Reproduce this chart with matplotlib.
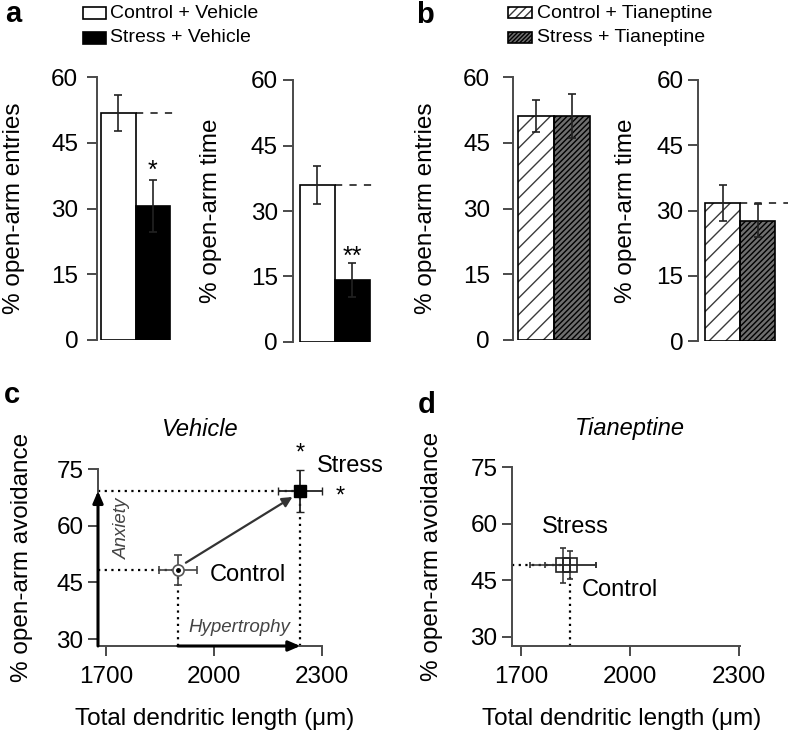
import matplotlib
matplotlib.use('Agg')
import matplotlib.pyplot as plt
from matplotlib.patches import Rectangle

plt.rcParams['font.family'] = ['Liberation Sans', 'DejaVu Sans']
plt.rcParams['hatch.linewidth'] = 1.0

# ---------------- data ----------------
groups = ['Control', 'Stress']
veh_entries = [51.8, 30.6]
veh_entries_err = [4.2, 5.9]
veh_time = [36.0, 14.2]
veh_time_err = [4.4, 3.9]
tia_entries = [51.1, 51.1]
tia_entries_err = [3.7, 5.0]
tia_time = [31.8, 27.7]
tia_time_err = [4.1, 3.8]

# panel c (Vehicle): dendritic length vs open-arm avoidance
veh_len = [1900, 2240]
veh_len_err = [53, 61]
veh_avoid = [48.3, 69.2]
veh_avoid_err = [4.0, 5.6]
# panel d (Tianeptine)
tia_len = [1835, 1815]
tia_len_err = [70, 90]
tia_avoid = [49.0, 49.0]
tia_avoid_err = [3.7, 4.6]

bar_yticks = [0, 15, 30, 45, 60]
sc_yticks = [30, 45, 60, 75]
sc_xticks = [1700, 2000, 2300]

W, H = 789, 747
fig = plt.figure(figsize=(W / 100, H / 100), dpi=100)

SPINE = '#4a4a4a'
TICKFS = 17.5
LABFS = 17.5


def rect(l, r, b, t):
    return [l / W, 1 - b / H, (r - l) / W, (b - t) / H]


def style_axes(ax, pad=3):
    for s in ['top', 'right']:
        ax.spines[s].set_visible(False)
    for s in ['left', 'bottom']:
        ax.spines[s].set_color(SPINE)
        ax.spines[s].set_linewidth(1.4)
    ax.tick_params(direction='out', length=7.5, width=1.4, color=SPINE,
                   labelsize=TICKFS, pad=pad)


def bar_axes(l, r, b, t, xlim, vals, errs, ylabel, lab_right, kind, dashed, pad):
    ax = fig.add_axes(rect(l, r, b, t))
    style_axes(ax, pad)
    ax.spines['bottom'].set_visible(False)
    ax.set_xticks([])
    ax.set_ylim(0, 60)
    ax.set_xlim(*xlim)
    ax.set_yticks(bar_yticks)
    x = [0, 1]
    if kind == 'veh':
        ax.bar(x, vals, width=1, color=['white', 'black'], edgecolor='black',
               linewidth=1.2, zorder=2)
    else:
        ax.bar(0, vals[0], width=1, facecolor='white', edgecolor='#3a3a3a',
               hatch='//', linewidth=0, zorder=2)
        ax.bar(1, vals[1], width=1, facecolor='#6e6e6e', edgecolor='black',
               hatch='//////', linewidth=0, zorder=2)
        ax.bar(x, vals, width=1, fill=False, edgecolor='black', linewidth=1.2,
               zorder=3)
    ax.errorbar(x, vals, yerr=errs, fmt='none', ecolor='#222222',
                elinewidth=1.2, capsize=3, capthick=1.2, zorder=4)
    if dashed:
        ax.plot([0.5, xlim[1]], [vals[0], vals[0]], linestyle=(0, (4, 4)),
                color='#333333', lw=1.3, zorder=1, clip_on=False)
    ax.set_ylabel(ylabel, fontsize=LABFS)
    ax.yaxis.set_label_coords((lab_right - l) / (r - l), 0.5)
    return ax


# ---------------- panel a ----------------
a1 = bar_axes(97, 174, 340, 77, (-0.62, 1.62), veh_entries, veh_entries_err,
              '% open-arm entries', 25, 'veh', True, 6)
a1.text(1, 38.5, '*', ha='center', va='center', fontsize=18)
a2 = bar_axes(293, 373, 342, 80, (-0.7, 1.6), veh_time, veh_time_err,
              '% open-arm time', 222, 'veh', True, 3.5)
a2.text(1, 19.5, '**', ha='center', va='center', fontsize=18)

# ---------------- panel b ----------------
b1 = bar_axes(513, 592, 340, 77, (-0.64, 1.55), tia_entries, tia_entries_err,
              '% open-arm entries', 437, 'tia', False, 9)
b2 = bar_axes(698, 788, 341, 80, (-0.7, 1.87), tia_time, tia_time_err,
              '% open-arm time', 637, 'tia', True, 3)

# ---------------- legends ----------------
def fig_rect(l, t, w, h, **kw):
    p = Rectangle((l / W, 1 - (t + h) / H), w / W, h / H,
                  transform=fig.transFigure, **kw)
    fig.add_artist(p)


LEGFS = 14
fig_rect(83, 7, 23, 12, facecolor='white', edgecolor='black', lw=1.2)
fig_rect(83, 32, 23, 12, facecolor='black', edgecolor='black', lw=1.2)
fig.text(110 / W, 1 - 13 / H, 'Control + Vehicle', fontsize=LEGFS, va='center')
fig.text(110 / W, 1 - 38 / H, 'Stress + Vehicle', fontsize=LEGFS, va='center')

fig_rect(508, 7, 24, 11, facecolor='white', edgecolor='#3a3a3a', hatch='////', lw=0)
fig_rect(508, 7, 24, 11, fill=False, edgecolor='black', lw=1.2)
fig_rect(508, 32, 24, 11, facecolor='#6e6e6e', edgecolor='black', hatch='////////', lw=0)
fig_rect(508, 32, 24, 11, fill=False, edgecolor='black', lw=1.2)
fig.text(537 / W, 1 - 13 / H, 'Control + Tianeptine', fontsize=LEGFS, va='center')
fig.text(537 / W, 1 - 38 / H, 'Stress + Tianeptine', fontsize=LEGFS, va='center')

# ---------------- panel letters ----------------
for lx, ly, s in [(5, 14, 'a'), (416, 15, 'b'), (4, 395, 'c'), (418, 405, 'd')]:
    fig.text(lx / W, 1 - ly / H, s, fontsize=21, fontweight='bold', va='center')


# ---------------- scatter panels ----------------
def scatter_axes(l, r, b, t, xlim, ylim, lab_right, xlab_cx, title, title_cx):
    ax = fig.add_axes(rect(l, r, b, t))
    style_axes(ax, 3)
    ax.set_xlim(*xlim)
    ax.set_ylim(*ylim)
    ax.set_xticks(sc_xticks)
    ax.set_yticks(sc_yticks)
    ax.tick_params(axis='x', pad=7)
    ax.set_xlabel('Total dendritic length (μm)', fontsize=LABFS)
    ax.xaxis.set_label_coords((xlab_cx - l) / (r - l), (b - 708) / (b - t))
    ax.set_ylabel('% open-arm avoidance', fontsize=LABFS)
    ax.yaxis.set_label_coords((lab_right - l) / (r - l), 0.5)
    ax.text((title_cx - l) / (r - l), (b - 429) / (b - t), title,
            transform=ax.transAxes, fontsize=17, style='italic',
            ha='center', va='center')
    return ax


# panel c
c = scatter_axes(98, 322, 646, 469, (1678, 2300), (28.15, 75), 33, 215,
                 'Vehicle', 200)
x0, y0 = c.get_xlim()[0], c.get_ylim()[0]
dot = dict(linestyle=(0, (1, 2)), color='black', lw=1.6, zorder=1)
c.plot([x0, veh_len[1]], [veh_avoid[1]] * 2, **dot)
c.plot([x0, veh_len[0]], [veh_avoid[0]] * 2, **dot)
c.plot([veh_len[0]] * 2, [y0, veh_avoid[0]], **dot)
c.plot([veh_len[1]] * 2, [y0, veh_avoid[1]], **dot)
c.annotate('', xy=(x0, veh_avoid[1]), xytext=(x0, y0),
           arrowprops=dict(arrowstyle='-|>,head_length=0.7,head_width=0.3',
                           color='black', lw=2.2, shrinkA=0, shrinkB=0),
           annotation_clip=False)
c.annotate('', xy=(veh_len[1], y0), xytext=(veh_len[0], y0),
           arrowprops=dict(arrowstyle='-|>,head_length=0.7,head_width=0.3',
                           color='black', lw=2.2, shrinkA=0, shrinkB=0),
           annotation_clip=False)
c.annotate('', xy=(2218, 67.6), xytext=(1922, 50.2),
           arrowprops=dict(arrowstyle='-|>,head_length=0.6,head_width=0.3',
                           color='#333333', lw=1.6, shrinkA=0, shrinkB=0))
c.errorbar(veh_len[0], veh_avoid[0], xerr=veh_len_err[0], yerr=veh_avoid_err[0],
           fmt='o', ms=8, mfc='white', mec='#555555', mew=1.2,
           ecolor='#444444', elinewidth=1.2, capsize=3, zorder=3)
c.plot(veh_len[0], veh_avoid[0], 'o', ms=2.5, color='black', zorder=4)
c.errorbar(veh_len[1], veh_avoid[1], xerr=veh_len_err[1], yerr=veh_avoid_err[1],
           fmt='s', ms=9, mfc='black', mec='black',
           ecolor='#222222', elinewidth=1.3, capsize=3, zorder=3, clip_on=False)
c.text(2286, 75.8, 'Stress', fontsize=17, va='center', ha='left')
c.text(1989, 46.9, 'Control', fontsize=17, va='center', ha='left')
c.text(veh_len[1], 79.0, '*', fontsize=17, ha='center', va='center')
c.text(2350, 67.6, '*', fontsize=17, ha='center', va='center')
c.text(2070, 33.0, 'Hypertrophy', fontsize=13.5, style='italic',
       color='#444444', ha='center', va='center')
c.text(1747, 59.4, 'Anxiety', fontsize=13.5, style='italic', color='#444444',
       rotation=90, ha='center', va='center')

# panel d
d = scatter_axes(512, 740, 646, 467, (1675, 2302), (27.6, 75), 443, 622,
                 'Tianeptine', 630)
x0, y0 = d.get_xlim()[0], d.get_ylim()[0]
d.plot([x0, tia_len[1]], [tia_avoid[1]] * 2, **dot)
d.plot([tia_len[0]] * 2, [y0, tia_avoid[0]], **dot)
d.errorbar(tia_len[1], tia_avoid[1], xerr=tia_len_err[1], yerr=tia_avoid_err[1],
           fmt='s', ms=10, mfc='none', mec='#222222', mew=1.2,
           ecolor='#333333', elinewidth=1.1, capsize=2.5, zorder=3)
d.errorbar(tia_len[0], tia_avoid[0], xerr=tia_len_err[0], yerr=tia_avoid_err[0],
           fmt='s', ms=10, mfc='none', mec='#222222', mew=1.2,
           ecolor='#333333', elinewidth=1.1, capsize=2.5, zorder=3)
d.text(1758, 59.1, 'Stress', fontsize=17, va='center', ha='left')
d.text(1868, 42.4, 'Control', fontsize=17, va='center', ha='left')

fig.savefig('out.png', dpi=100)
